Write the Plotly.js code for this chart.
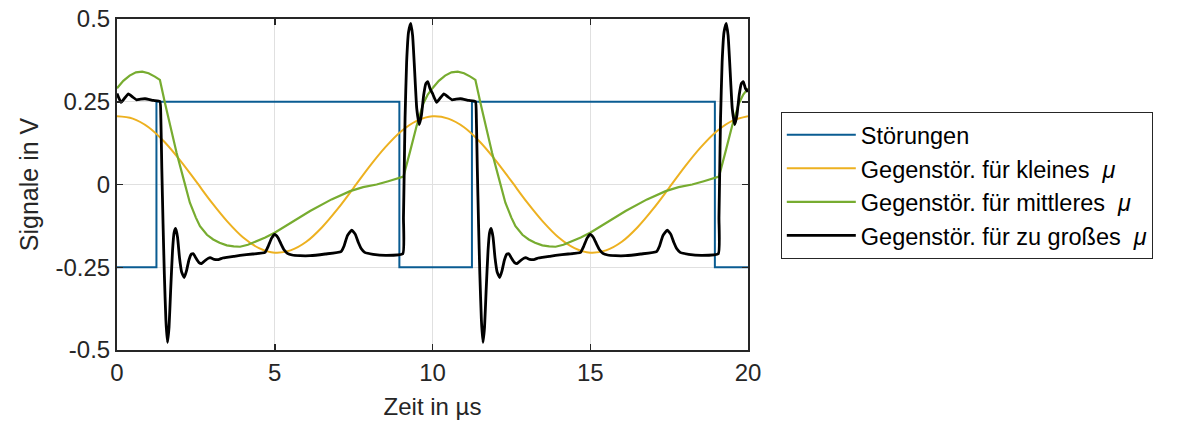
<!DOCTYPE html>
<html>
<head>
<meta charset="utf-8">
<script src="https://cdn.plot.ly/plotly-3.0.1.min.js"></script>
<style>
  html, body { margin: 0; padding: 0; background: #fff; }
  #chart { width: 1185px; height: 423px; }
</style>
</head>
<body>
<div id="chart"></div>
<script>
// ---------- data ----------
const seriesNames = [
  "Störungen",
  "Gegenstör. für kleines&nbsp; <i>μ</i>",
  "Gegenstör. für mittleres&nbsp; <i>μ</i>",
  "Gegenstör. für zu großes&nbsp; <i>μ</i>"
];

// Störungen (square wave)
const tDist = [0, 1.25, 1.25, 8.95, 8.95, 11.25, 11.25, 18.95, 18.95, 20];
const vDist = [-0.25, -0.25, 0.25, 0.25, -0.25, -0.25, 0.25, 0.25, -0.25, -0.25];

// kleines mu
const tSmall = [0, 0.5, 1, 1.5, 2, 2.5, 3, 3.5, 4, 4.5, 5, 5.5, 6, 6.5, 7, 7.5, 8, 8.5, 9, 9.5,
                10, 10.5, 11, 11.5, 12, 12.5, 13, 13.5, 14, 14.5, 15, 15.5, 16, 16.5, 17, 17.5, 18, 18.5, 19, 19.5, 20];
const vSmall = [0.206, 0.199, 0.173, 0.129, 0.073, 0.010, -0.054, -0.112, -0.160, -0.192,
                -0.206, -0.199, -0.173, -0.129, -0.073, -0.010, 0.054, 0.112, 0.160, 0.192,
                0.206, 0.199, 0.173, 0.129, 0.073, 0.010, -0.054, -0.112, -0.160, -0.192,
                -0.206, -0.199, -0.173, -0.129, -0.073, -0.010, 0.054, 0.112, 0.160, 0.192, 0.206];

// mittleres mu
const tMid = [0, 0.2, 0.4, 0.6, 0.8, 1.0, 1.2, 1.36, 1.52, 1.7, 1.89, 2.1, 2.31, 2.5, 2.63, 2.85, 3.05, 3.25, 3.48, 3.7, 3.9,
              4.15, 4.4, 4.7, 5.01, 5.5, 6.12, 6.8, 7.39, 7.8, 8.23, 8.6, 9.08, 9.29, 9.5, 9.71, 9.85,
              10, 10.2, 10.4, 10.6, 10.8, 11.0, 11.2, 11.36, 11.52, 11.7, 11.89, 12.1, 12.31, 12.5, 12.63, 12.85, 13.05, 13.25, 13.48, 13.7, 13.9,
              14.15, 14.4, 14.7, 15.01, 15.5, 16.12, 16.8, 17.39, 17.8, 18.23, 18.6, 19.08, 19.29, 19.5, 19.71, 19.85, 20];
const vMid = [0.291, 0.313, 0.329, 0.339, 0.341, 0.336, 0.326, 0.316, 0.246, 0.172, 0.095, 0.020, -0.055, -0.100, -0.126, -0.152, -0.166, -0.176, -0.184, -0.187, -0.188,
              -0.182, -0.172, -0.160, -0.145, -0.117, -0.080, -0.045, -0.020, -0.008, 0.000, 0.010, 0.024, 0.100, 0.178, 0.245, 0.272,
              0.291, 0.313, 0.329, 0.339, 0.341, 0.336, 0.326, 0.316, 0.246, 0.172, 0.095, 0.020, -0.055, -0.100, -0.126, -0.152, -0.166, -0.176, -0.184, -0.187, -0.188,
              -0.182, -0.172, -0.160, -0.145, -0.117, -0.080, -0.045, -0.020, -0.008, 0.000, 0.010, 0.024, 0.100, 0.178, 0.245, 0.272, 0.290];

// zu grosses mu
const tBig = [0, 0.13, 0.25, 0.36, 0.5, 0.62, 0.75, 0.89, 1.15, 1.36, 1.39, 1.42, 1.46, 1.5, 1.55, 1.6, 1.65, 1.7, 1.76, 1.81, 1.86, 1.92, 1.98, 2.05, 2.13,
              2.2, 2.28, 2.35, 2.42, 2.5, 2.6, 2.68, 2.8, 2.95, 3.08, 3.21, 3.35, 3.48, 3.7, 3.9, 4.3, 4.69, 4.8, 4.9, 5.0, 5.1, 5.2, 5.3, 5.4, 5.55,
              5.8, 6.12, 6.6, 7.1, 7.2, 7.3, 7.44, 7.55, 7.65, 7.75, 7.85, 8.12, 8.55, 9.06, 9.08, 9.1, 9.13, 9.18, 9.24, 9.31, 9.37, 9.43, 9.5,
              9.58, 9.65, 9.72, 9.79, 9.85, 9.92,
              10, 10.13, 10.25, 10.36, 10.5, 10.62, 10.75, 10.89, 11.15, 11.36, 11.39, 11.42, 11.46, 11.5, 11.55, 11.6, 11.65, 11.7, 11.76, 11.81, 11.86, 11.92, 11.98, 12.05, 12.13,
              12.2, 12.28, 12.35, 12.42, 12.5, 12.6, 12.68, 12.8, 12.95, 13.08, 13.21, 13.35, 13.48, 13.7, 13.9, 14.3, 14.69, 14.8, 14.9, 15.0, 15.1, 15.2, 15.3, 15.4, 15.55,
              15.8, 16.12, 16.6, 17.1, 17.2, 17.3, 17.44, 17.55, 17.65, 17.75, 17.85, 18.12, 18.55, 19.06, 19.08, 19.1, 19.13, 19.18, 19.24, 19.31, 19.37, 19.43, 19.5,
              19.58, 19.65, 19.72, 19.79, 19.85, 19.92, 20];
const vBig = [0.275, 0.248, 0.262, 0.274, 0.264, 0.256, 0.258, 0.259, 0.254, 0.251, 0.200, 0.050, -0.120, -0.270, -0.410, -0.477, -0.430, -0.320, -0.200, -0.145, -0.133, -0.160, -0.220, -0.265, -0.281,
              -0.262, -0.228, -0.211, -0.209, -0.222, -0.236, -0.239, -0.229, -0.221, -0.226, -0.227, -0.222, -0.220, -0.217, -0.214, -0.210, -0.205, -0.185, -0.162, -0.151, -0.160, -0.180, -0.198, -0.208, -0.213,
              -0.215, -0.215, -0.210, -0.203, -0.185, -0.155, -0.138, -0.150, -0.175, -0.195, -0.205, -0.211, -0.214, -0.209, -0.100, 0.020, 0.200, 0.370, 0.460, 0.487, 0.450, 0.350, 0.230,
              0.181, 0.210, 0.270, 0.305, 0.311, 0.290,
              0.275, 0.248, 0.262, 0.274, 0.264, 0.256, 0.258, 0.259, 0.254, 0.251, 0.200, 0.050, -0.120, -0.270, -0.410, -0.477, -0.430, -0.320, -0.200, -0.145, -0.133, -0.160, -0.220, -0.265, -0.281,
              -0.262, -0.228, -0.211, -0.209, -0.222, -0.236, -0.239, -0.229, -0.221, -0.226, -0.227, -0.222, -0.220, -0.217, -0.214, -0.210, -0.205, -0.185, -0.162, -0.151, -0.160, -0.180, -0.198, -0.208, -0.213,
              -0.215, -0.215, -0.210, -0.203, -0.185, -0.155, -0.138, -0.150, -0.175, -0.195, -0.205, -0.211, -0.214, -0.209, -0.100, 0.020, 0.200, 0.370, 0.460, 0.487, 0.450, 0.350, 0.230,
              0.181, 0.210, 0.270, 0.305, 0.311, 0.290, 0.280];

// axis ticks
const xTickVals = [0, 5, 10, 15, 20];
const xTickText = ["0", "5", "10", "15", "20"];
const yTickVals = [-0.5, -0.25, 0, 0.25, 0.5];
const yTickText = ["-0.5", "-0.25", "0", "0.25", "0.5"];

const xTitle = "Zeit in µs";
const yTitle = "Signale in V";

// ---------- chart ----------
const FONT = "Liberation Sans, Arial, sans-serif";
const AX = "#262626";

const traces = [
  {x: tDist, y: vDist, name: seriesNames[0], mode: "lines", line: {color: "#0a5c92", width: 2}},
  {x: tSmall, y: vSmall, name: seriesNames[1], mode: "lines", line: {color: "#EDB120", width: 2, shape: "spline", smoothing: 1}},
  {x: tMid, y: vMid, name: seriesNames[2], mode: "lines", line: {color: "#77AC30", width: 2.2}},
  {x: tBig, y: vBig, name: seriesNames[3], mode: "lines", line: {color: "#000000", width: 2.8, shape: "spline", smoothing: 0.4}}
];

const axisCommon = {
  showline: true, linecolor: AX, linewidth: 2, mirror: "ticks",
  ticks: "inside", ticklen: 6, tickwidth: 1.5, tickcolor: AX,
  showgrid: true, gridcolor: "#e0e0e0", gridwidth: 1,
  zeroline: false,
  tickfont: {family: FONT, size: 24, color: AX}
};

const layout = {
  width: 1185, height: 423,
  margin: {l: 117, r: 437, t: 19, b: 73, pad: 0},
  paper_bgcolor: "#fff", plot_bgcolor: "#fff",
  font: {family: FONT, color: AX},
  showlegend: true,
  xaxis: Object.assign({}, axisCommon, {
    range: [0, 20], tickmode: "array", tickvals: xTickVals, ticktext: xTickText,
    title: {text: xTitle, font: {family: FONT, size: 24, color: AX}, standoff: 13}
  }),
  yaxis: Object.assign({}, axisCommon, {
    range: [-0.5, 0.5], tickmode: "array", tickvals: yTickVals, ticktext: yTickText,
    title: {text: yTitle, font: {family: FONT, size: 25, color: AX}, standoff: 10}
  }),
  legend: {
    x: 1.052, xanchor: "left", y: 0.719, yanchor: "top",
    bgcolor: "#fff", bordercolor: "#262626", borderwidth: 1,
    font: {family: FONT, size: 23.5, color: "#000"},
    itemwidth: 69, tracegroupgap: 0
  }
};

Plotly.newPlot("chart", traces, layout, {staticPlot: true, displayModeBar: false});
</script>
</body>
</html>
